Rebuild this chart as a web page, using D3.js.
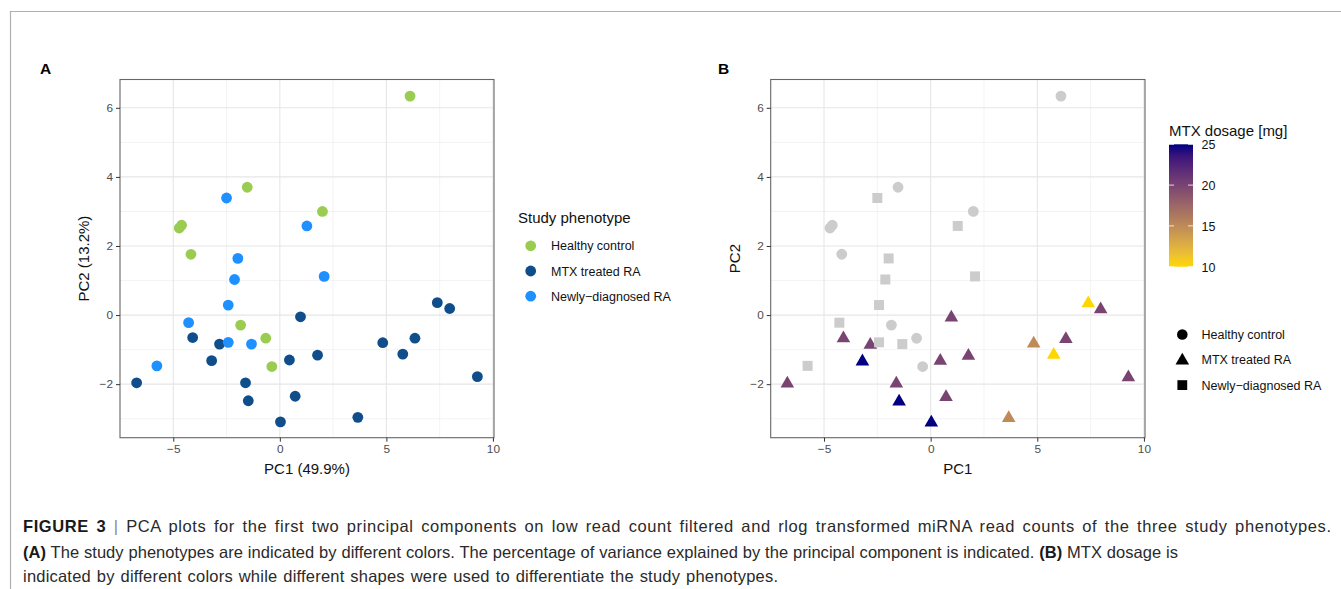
<!DOCTYPE html>
<html><head><meta charset="utf-8">
<script src="https://cdn.jsdelivr.net/npm/d3@7"></script>
<style>body{margin:0;background:#fff} text{font-family:"Liberation Sans",Arial,Helvetica,sans-serif}</style>
</head><body><svg id="c" width="1341" height="589"></svg>
<script>
// ---- data ----
const groups = ["Healthy control", "MTX treated RA", "Newly\u2212diagnosed RA"];
const groupColors = ["#9BCC52", "#104E8B", "#1E90FF"];
const healthyPC1 = [6.11, -1.53, 2.0, -4.61, -4.72, -4.17, -1.84, -0.66, -0.375];
const healthyPC2 = [6.34, 3.70, 3.0, 2.60, 2.52, 1.76, -0.29, -0.67, -1.49];
const newlyPC1 = [-2.5, 1.27, -1.97, -2.125, 2.08, -2.42, -4.28, -2.42, -1.33, -5.77];
const newlyPC2 = [3.39, 2.58, 1.64, 1.03, 1.12, 0.29, -0.22, -0.79, -0.84, -1.47];
const mtxPC1 = [7.39, 7.97, 0.97, -4.09, -2.83, -3.2, 4.83, 5.77, 6.34, 0.45, 1.77, 9.27, -6.72, -1.61, -1.48, 0.72, 0.03, 3.66];
const mtxPC2 = [0.36, 0.19, -0.05, -0.65, -0.84, -1.32, -0.80, -1.13, -0.67, -1.30, -1.16, -1.78, -1.96, -1.96, -2.48, -2.35, -3.09, -2.96];
const mtxDose = [10, 20, 20, 20, 20, 25, 15, 10, 20, 20, 20, 20, 20, 20, 25, 20, 25, 15];
const xTicks = [-5, 0, 5, 10];
const yTicks = [-2, 0, 2, 4, 6];
const xMinor = [-2.5, 2.5, 7.5];
const yMinor = [-3, -1, 1, 3, 5];
const doseTicks = [10, 15, 20, 25];

// ---- build rows ----
const rows = [];
healthyPC1.forEach((v, i) => rows.push({pc1: v, pc2: healthyPC2[i], g: 0, dose: null}));
mtxPC1.forEach((v, i) => rows.push({pc1: v, pc2: mtxPC2[i], g: 1, dose: mtxDose[i]}));
newlyPC1.forEach((v, i) => rows.push({pc1: v, pc2: newlyPC2[i], g: 2, dose: null}));

const svg = d3.select("#c");
const FONT = '"Liberation Sans",Arial,sans-serif';

// figure frame
svg.append("path").attr("d", "M10.5,589 V11.5 H1341").attr("fill", "none").attr("stroke", "#b0b0b0").attr("stroke-width", 1.2);

const xDomain = [-7.5, 10.05], yDomain = [-3.55, 6.82];
const pTop = 79.5, pBot = 437.7;

const doseColor = d3.scaleLinear().domain([10, 25]).range(["gold", "navy"]).interpolate(d3.interpolateLab);

function panel(left, right, yTitle, xTitle, letter, letterX, mode) {
  const x = d3.scaleLinear().domain(xDomain).range([left, right]);
  const y = d3.scaleLinear().domain(yDomain).range([pBot, pTop]);
  const g = svg.append("g");
  g.append("rect").attr("x", left).attr("y", pTop).attr("width", right - left).attr("height", pBot - pTop).attr("fill", "#fff");
  // minor grid
  g.selectAll(".mx").data(xMinor).join("line").attr("x1", d => x(d)).attr("x2", d => x(d)).attr("y1", pTop).attr("y2", pBot).attr("stroke", "#f0f0f0").attr("stroke-width", 0.8);
  g.selectAll(".my").data(yMinor).join("line").attr("y1", d => y(d)).attr("y2", d => y(d)).attr("x1", left).attr("x2", right).attr("stroke", "#f0f0f0").attr("stroke-width", 0.8);
  // major grid
  g.selectAll(".gx").data(xTicks).join("line").attr("x1", d => x(d)).attr("x2", d => x(d)).attr("y1", pTop).attr("y2", pBot).attr("stroke", "#e6e6e6").attr("stroke-width", 1.1);
  g.selectAll(".gy").data(yTicks).join("line").attr("y1", d => y(d)).attr("y2", d => y(d)).attr("x1", left).attr("x2", right).attr("stroke", "#e6e6e6").attr("stroke-width", 1.1);

  // points
  const pts = g.append("g");
  if (mode === "A") {
    pts.selectAll("circle").data(rows).join("circle")
      .attr("cx", d => x(d.pc1)).attr("cy", d => y(d.pc2)).attr("r", 5.4)
      .attr("fill", d => groupColors[d.g]);
  } else {
    const shapes = [d3.symbolCircle, d3.symbolTriangle, d3.symbolSquare];
    const sizes = [92, 80, 100];
    pts.selectAll("path").data(rows).join("path")
      .attr("transform", d => `translate(${x(d.pc1)},${y(d.pc2) + (d.g === 1 ? 0.8 : 0)})`)
      .attr("d", d => d3.symbol().type(shapes[d.g]).size(sizes[d.g])())
      .attr("fill", d => d.dose == null ? "#cccccc" : doseColor(d.dose));
  }

  // border
  g.append("rect").attr("x", left).attr("y", pTop).attr("width", right - left).attr("height", pBot - pTop).attr("fill", "none").attr("stroke", "#666").attr("stroke-width", 1.1);

  // axes
  const xa = g.append("g").attr("transform", `translate(0,${pBot})`)
    .call(d3.axisBottom(x).tickValues(xTicks).tickSize(4).tickPadding(3));
  const ya = g.append("g").attr("transform", `translate(${left},0)`)
    .call(d3.axisLeft(y).tickValues(yTicks).tickSize(4).tickPadding(3));
  [xa, ya].forEach(a => {
    a.select(".domain").remove();
    a.selectAll("line").attr("stroke", "#333");
    a.selectAll("text").attr("fill", "#4d4d4d").style("font-family", FONT).style("font-size", "11.8px");
  });
  g.append("text").attr("x", (left + right) / 2).attr("y", 474).attr("text-anchor", "middle")
    .style("font-size", "15px").attr("fill", "#111").text(xTitle);
  g.append("text").attr("transform", `translate(${left - 31},${(pTop + pBot) / 2}) rotate(-90)`).attr("text-anchor", "middle")
    .style("font-size", "15px").attr("fill", "#111").text(yTitle);
  g.append("text").attr("x", letterX).attr("y", 73.5).style("font-size", "15.5px").style("font-weight", "bold").text(letter);
}

panel(120, 494, "PC2 (13.2%)", "PC1 (49.9%)", "A", 40, "A");
panel(770.7, 1145, "PC2", "PC1", "B", 718, "B");

// legend A
const lgA = svg.append("g");
lgA.append("text").attr("x", 518).attr("y", 223).style("font-size", "15px").attr("fill", "#111").text("Study phenotype");
groups.forEach((name, i) => {
  const yy = 245.8 + i * 25.2;
  lgA.append("circle").attr("cx", 530.7).attr("cy", yy).attr("r", 5.4).attr("fill", groupColors[i]);
  lgA.append("text").attr("x", 551).attr("y", yy + 4.5).style("font-size", "12.5px").attr("fill", "#111").text(name);
});

// legend B colorbar
const lgB = svg.append("g");
lgB.append("text").attr("x", 1169).attr("y", 136).style("font-size", "15px").attr("fill", "#111").text("MTX dosage [mg]");
const barTop = 144.3, barBot = 266.7, barL = 1169, barW = 24;
const by = d3.scaleLinear().domain([10, 25]).range([barBot, barTop]);
const grad = svg.append("defs").append("linearGradient").attr("id", "dg").attr("x1", 0).attr("y1", 1).attr("x2", 0).attr("y2", 0);
d3.range(0, 1.0001, 0.1).forEach(t => grad.append("stop").attr("offset", t).attr("stop-color", doseColor(10 + 15 * t)));
lgB.append("rect").attr("x", barL).attr("y", barTop).attr("width", barW).attr("height", barBot - barTop).attr("fill", "url(#dg)");
doseTicks.forEach(v => {
  lgB.append("line").attr("x1", barL).attr("x2", barL + 5).attr("y1", by(v)).attr("y2", by(v)).attr("stroke", "#fff").attr("stroke-opacity", 0.8);
  lgB.append("line").attr("x1", barL + barW - 5).attr("x2", barL + barW).attr("y1", by(v)).attr("y2", by(v)).attr("stroke", "#fff").attr("stroke-opacity", 0.8);
  lgB.append("text").attr("x", 1201.5).attr("y", by(v) + 5).style("font-size", "12.5px").attr("fill", "#111").text(v);
});
// legend B shapes
const shapesL = [d3.symbolCircle, d3.symbolTriangle, d3.symbolSquare];
const sizesL = [88, 80, 96];
groups.forEach((name, i) => {
  const yy = 334.5 + i * 25.3;
  lgB.append("path").attr("transform", `translate(1182.3,${yy + (i === 1 ? 0.8 : 0)})`)
    .attr("d", d3.symbol().type(shapesL[i]).size(sizesL[i])()).attr("fill", "#000");
  lgB.append("text").attr("x", 1201.5).attr("y", yy + 4.5).style("font-size", "12.5px").attr("fill", "#111").text(name);
});

// caption
const capLines = [
  [["FIGURE 3", true], [" | ", false, "#888"], ["PCA plots for the first two principal components on low read count filtered and rlog transformed miRNA read counts of the three study phenotypes.", false]],
  [["(A)", true], [" The study phenotypes are indicated by different colors. The percentage of variance explained by the principal component is indicated. ", false], ["(B)", true], [" MTX dosage is", false]],
  [["indicated by different colors while different shapes were used to differentiate the study phenotypes.", false]]
];
const capY = [531.5, 557.7, 581.7];
const capEnd = [1331, 1178, 778];
capLines.forEach((parts, i) => {
  const t = svg.append("text").attr("x", 23).attr("y", capY[i]).style("font-size", "16.5px").attr("fill", "#2a2a2a").attr("xml:space", "preserve");
  parts.forEach(p => {
    const ts = t.append("tspan").text(p[0]);
    if (p[1]) ts.style("font-weight", "bold").attr("fill", "#1a1a1a");
    if (p[2]) ts.attr("fill", p[2]);
  });
  const str = parts.map(p => p[0]).join("");
  const w = t.node().getComputedTextLength();
  const extra = capEnd[i] - 23 - w;
  const nSpaces = str.split(" ").length - 1;
  const nChars = str.length - 1;
  const ls = 0.6 * extra / nChars;
  const ws = 0.4 * extra / nSpaces;
  t.style("letter-spacing", ls + "px").style("word-spacing", ws + "px");
});
</script>
</body></html>
